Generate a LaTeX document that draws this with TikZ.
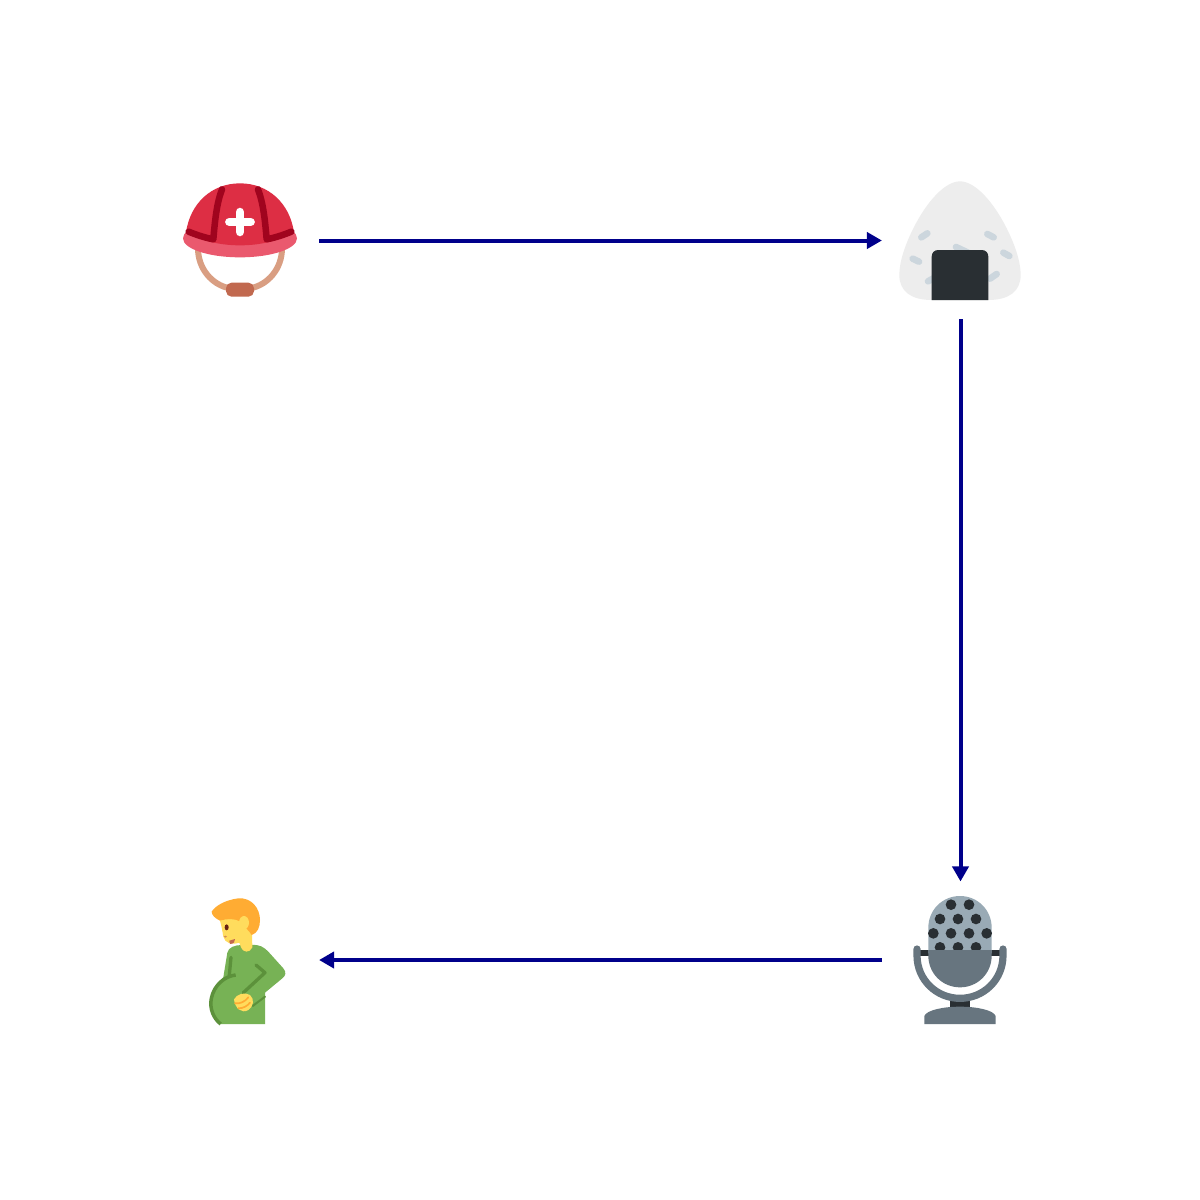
\documentclass[tikz,border=0pt]{standalone}
\usepackage{xcolor}
\usetikzlibrary{arrows.meta, positioning}
\definecolor{flowblue}{HTML}{00008B}
\definecolor{capred}{HTML}{DD2E44}
\definecolor{brimpink}{HTML}{EA596E}
\definecolor{banddark}{HTML}{A0041E}
\definecolor{strapskin}{HTML}{D99E82}
\definecolor{buckle}{HTML}{C1694F}
\definecolor{riceshell}{HTML}{EDEDED}
\definecolor{ricegrain}{HTML}{CCD6DD}
\definecolor{coal}{HTML}{292F33}
\definecolor{micgrey}{HTML}{99AAB5}
\definecolor{steel}{HTML}{67757F}
\definecolor{hairgold}{HTML}{FFAC33}
\definecolor{skin}{HTML}{FFDC5D}
\definecolor{shirt}{HTML}{77B255}
\definecolor{shirtdark}{HTML}{5C913B}
\definecolor{eyebrown}{HTML}{662113}
\begin{document}
\begin{tikzpicture}[
    x=0.01cm, y=-0.01cm,
    icon/.style={minimum size=1.57cm, inner sep=0pt, outer sep=0pt},
    flow/.style={draw=flowblue, line width=0.04cm,
                 -{Triangle[length=0.15cm, width=0.16cm]}},
    zoomed/.style={scale=0.33333, line cap=round, line join=round},
    grain/.style={draw=ricegrain, line width=0.066cm, line cap=round}]
    \useasboundingbox (0,0) rectangle (1200,1200);
    \fill[white] (0,0) rectangle (1200,1200);
    \node[icon] (helmet) at (240.5,240.5) {};
    \node[icon] (onigiri) at (960.5,240.5) {};
    \node[icon] (mic) at (960.5,960) {};
    \node[icon] (person) at (240.5,960) {};
    % rescue helmet
    \begin{scope}[shift={(170,170)}, zoomed]
      \draw[strapskin, line width=0.06cm] (84,235) .. controls (84,295) and (125,345) .. (180,355);
      \draw[strapskin, line width=0.06cm] (336,235) .. controls (336,295) and (295,345) .. (240,355);
      \fill[buckle, rounded corners=0.055cm] (168,338) rectangle (252,380);
      \fill[brimpink] (210,205) ellipse (171 and 57);
      \fill[capred] (48,188) .. controls (60,100) and (125,40) .. (210,40)
        .. controls (295,40) and (360,100) .. (372,188)
        .. controls (320,215) and (265,226) .. (210,226)
        .. controls (155,226) and (100,215) .. (48,188) -- cycle;
      \draw[banddark, line width=0.065cm] (156,58) .. controls (140,100) and (135,150) .. (130,208)
        .. controls (105,203) and (80,195) .. (56,185);
      \draw[banddark, line width=0.065cm] (264,58) .. controls (280,100) and (285,150) .. (290,208)
        .. controls (315,203) and (340,195) .. (364,185);
      \draw[white, line width=0.085cm] (210,126) -- (210,186);
      \draw[white, line width=0.085cm] (178,156) -- (242,156);
    \end{scope}
    % rice ball
    \begin{scope}[shift={(890,170)}, zoomed]
      \fill[riceshell] (210,34) .. controls (165,34) and (110,95) .. (70,175)
        .. controls (45,225) and (28,275) .. (28,315)
        .. controls (28,365) and (65,390) .. (125,390) -- (295,390)
        .. controls (355,390) and (392,365) .. (392,315)
        .. controls (392,275) and (375,225) .. (350,175)
        .. controls (310,95) and (255,34) .. (210,34) -- cycle;
      \draw[grain] (94,202) -- (112,190);
      \draw[grain] (292,192) -- (311,202);
      \draw[grain] (68,266) -- (87,275);
      \draw[grain] (340,248) -- (358,258);
      \draw[grain] (198,231) -- (238,250);
      \draw[grain] (114,334) -- (130,325);
      \draw[grain] (300,326) -- (320,312);
      \fill[coal] (125,390) -- (125,260) .. controls (125,248) and (133,240) .. (145,240)
        -- (275,240) .. controls (287,240) and (295,248) .. (295,260) -- (295,390) -- cycle;
    \end{scope}
    % microphone
    \begin{scope}[shift={(890,890)}, zoomed]
      \fill[coal] (90,180) rectangle (330,198);
      \fill[coal] (180,330) rectangle (240,352);
      \draw[steel, line width=0.072cm] (81,177) -- (81,196) .. controls (81,270) and (140,325) .. (210,325)
        .. controls (280,325) and (339,270) .. (339,196) -- (339,177);
      \fill[micgrey] (115,190) -- (115,113) .. controls (115,60) and (157,18) .. (210,18)
        .. controls (263,18) and (305,60) .. (305,113) -- (305,190) -- cycle;
      \foreach \dotx/\doty in {183/44, 237/44, 150/87, 204/87, 258/87, 130/130, 183/130,
          237/130, 290/130, 150/172, 204/172, 258/172}
        \fill[coal] (\dotx,\doty) circle (16);
      \fill[steel] (115,180) -- (305,180) -- (305,197) .. controls (305,250) and (263,292) .. (210,292)
        .. controls (157,292) and (115,250) .. (115,197) -- cycle;
      \fill[steel] (103,402) -- (103,378) .. controls (110,360) and (160,350) .. (210,350)
        .. controls (260,350) and (310,360) .. (317,378) -- (317,402) -- cycle;
    \end{scope}
    % pregnant man
    \begin{scope}[shift={(170,890)}, zoomed]
      \fill[shirt] (172,188) .. controls (175,172) and (195,165) .. (215,165) -- (245,165)
        .. controls (270,163) and (282,172) .. (295,185) -- (340,235)
        .. controls (350,247) and (347,257) .. (337,265) -- (285,308)
        -- (285,402) -- (150,402) .. controls (128,385) and (118,355) .. (122,325)
        .. controls (128,295) and (145,275) .. (160,262) -- cycle;
      \draw[shirtdark, line width=0.035cm, line cap=butt] (152,402) .. controls (130,385) and (118,355) .. (124,325)
        .. controls (132,285) and (165,258) .. (197,255);
      \draw[shirtdark, line width=0.033cm] (183,202) -- (178,255);
      \draw[shirtdark, line width=0.033cm] (258,225) -- (285,248) -- (220,308);
      \draw[shirtdark, line width=0.02cm] (248,348) -- (285,320);
      \fill[skin] (192,328) .. controls (200,312) and (225,305) .. (240,315)
        .. controls (255,328) and (250,350) .. (235,360)
        .. controls (215,372) and (195,355) .. (192,328) -- cycle;
      \draw[hairgold, line width=0.017cm] (195,340) .. controls (210,342) and (225,335) .. (235,322);
      \draw[hairgold, line width=0.017cm] (205,355) .. controls (220,355) and (232,348) .. (240,338);
      \fill[skin] (150,92) -- (155,112) -- (160,140) .. controls (165,160) and (185,165) .. (208,158)
        -- (213,172) .. controls (218,188) and (240,190) .. (247,172) -- (246,125)
        -- (240,70) -- (170,70) -- cycle;
      \fill[hairgold] (125,65) .. controls (135,48) and (165,30) .. (205,25)
        .. controls (245,22) and (270,55) .. (270,90)
        .. controls (270,112) and (262,130) .. (245,135)
        .. controls (235,118) and (225,115) .. (212,95)
        .. controls (195,85) and (170,85) .. (150,92)
        .. controls (135,85) and (125,75) .. (125,65) -- cycle;
      \fill[skin] (222,98) ellipse (15 and 20);
      \fill[eyebrown] (170,112) ellipse (6 and 9);
      \fill[buckle] (178,152) -- (195,147) .. controls (197,155) and (190,162) .. (180,162) -- cycle;
      \fill[buckle!70!skin] (166,140) ellipse (5 and 3);
    \end{scope}
    % connectors
    \draw[flow] (helmet) -- (onigiri);
    \draw[flow] (onigiri) -- (mic);
    \draw[flow] (mic) -- (person);
\end{tikzpicture}
\end{document}
